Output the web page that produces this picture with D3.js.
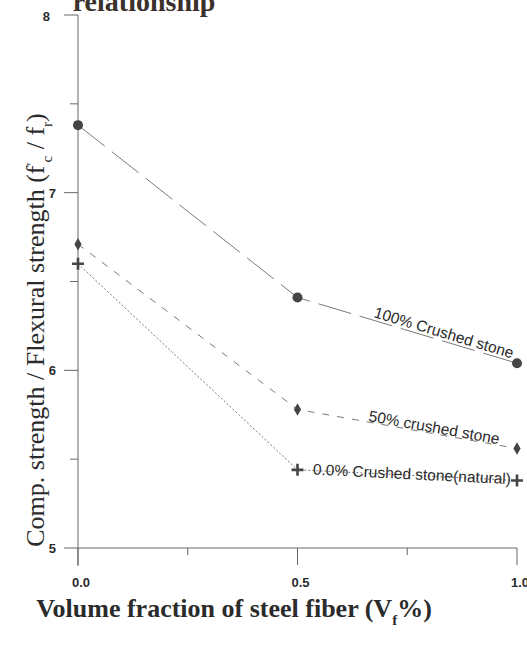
<!DOCTYPE html>
<html>
<head>
<meta charset="utf-8">
<script src="https://cdn.jsdelivr.net/npm/d3@7"></script>
<style>
body { margin:0; background:#fff; }
svg { display:block; }
</style>
</head>
<body>
<div id="chart"></div>
<script>
// data
const fiberFractions = [0.0, 0.5, 1.0];
const crushed100 = [7.38, 6.41, 6.04];
const crushed50 = [6.71, 5.78, 5.56];
const crushed0 = [6.60, 5.44, 5.38];
const seriesNames = ['100% Crushed stone', '50% crushed stone', '0.0% Crushed stone(natural)'];
const yTickValues = [5, 6, 7, 8];
const yMinorTicks = [5.5, 6.5, 7.5];
const xTickValues = [0.0, 0.5, 1.0];
const xMinorTicks = [0.25, 0.75];

(function(){
const W = 527, H = 646;
const svg = d3.select('#chart').append('svg').attr('width', W).attr('height', H);

const x = d3.scaleLinear().domain([0, 1]).range([78, 517]);
const y = d3.scaleLinear().domain([5, 8]).range([548, 15]);

const ink = '#2b2b2b';
const axisCol = '#666';

// title (cut off at top in the scan)
svg.append('text').attr('x', 144).attr('y', 11).attr('text-anchor', 'middle')
  .style('font-family', '"Liberation Serif", serif').style('font-weight', 'bold')
  .style('font-size', '28px').attr('fill', '#3a302c').text('relationship');

// axes lines
svg.append('line').attr('x1', x(0)).attr('x2', x(0)).attr('y1', y(8)).attr('y2', y(5) + 18)
  .attr('stroke', axisCol).attr('stroke-width', 1);
svg.append('line').attr('x1', x(0)).attr('x2', x(1)).attr('y1', y(5)).attr('y2', y(5))
  .attr('stroke', axisCol).attr('stroke-width', 1);

// y ticks
svg.selectAll('.ytick').data(yTickValues).enter().append('line')
  .attr('x1', x(0) - 14).attr('x2', x(0)).attr('y1', d => y(d)).attr('y2', d => y(d))
  .attr('stroke', axisCol);
svg.selectAll('.yminor').data(yMinorTicks).enter().append('line')
  .attr('x1', x(0) - 8).attr('x2', x(0)).attr('y1', d => y(d)).attr('y2', d => y(d))
  .attr('stroke', axisCol);
svg.selectAll('.ylab').data(yTickValues).enter().append('text')
  .attr('x', d => d === 8 ? 50 : 56).attr('y', d => y(d) + (d === 8 ? 6 : 5)).attr('text-anchor', 'end')
  .style('font-family', '"Liberation Sans", Arial, sans-serif').style('font-weight', 'bold')
  .style('font-size', '13px').attr('fill', ink).text(d => d);

// x ticks
svg.selectAll('.xtick').data(xTickValues).enter().append('line')
  .attr('x1', d => x(d)).attr('x2', d => x(d)).attr('y1', y(5)).attr('y2', y(5) + 17)
  .attr('stroke', axisCol);
svg.selectAll('.xminor').data(xMinorTicks).enter().append('line')
  .attr('x1', d => x(d)).attr('x2', d => x(d)).attr('y1', y(5)).attr('y2', y(5) + 7)
  .attr('stroke', axisCol);
svg.selectAll('.xlab').data(xTickValues).enter().append('text')
  .attr('x', d => x(d) + 3).attr('y', 587).attr('text-anchor', 'middle')
  .style('font-family', '"Liberation Sans", Arial, sans-serif').style('font-weight', 'bold')
  .style('font-size', '13px').attr('fill', ink).text(d => d.toFixed(1));

// axis titles
const yTitle = svg.append('text').attr('transform', 'translate(44,330) rotate(-90)')
  .attr('text-anchor', 'middle')
  .style('font-family', '"Liberation Serif", serif').style('font-size', '26px').attr('fill', ink);
yTitle.append('tspan').text('Comp. strength / Flexural strength (f');
yTitle.append('tspan').attr('baseline-shift', 'super').style('font-size', '14px').text('\u2032');
yTitle.append('tspan').attr('baseline-shift', 'sub').style('font-size', '15px').text('c');
yTitle.append('tspan').text(' / f');
yTitle.append('tspan').attr('baseline-shift', 'sub').style('font-size', '15px').text('r');
yTitle.append('tspan').text(')');

const xTitle = svg.append('text').attr('x', 234).attr('y', 617).attr('text-anchor', 'middle')
  .style('font-family', '"Liberation Serif", serif').style('font-weight', 'bold')
  .style('font-size', '26px').attr('fill', ink);
xTitle.append('tspan').text('Volume fraction of steel fiber (V');
xTitle.append('tspan').attr('baseline-shift', 'sub').style('font-size', '15px').text('f');
xTitle.append('tspan').text('%)');

// series
const series = [
  { name: seriesNames[0], values: crushed100, dash: '34,9', marker: 'circle', t: 0.34, dy: -3 },
  { name: seriesNames[1], values: crushed50, dash: '7,8', marker: 'diamond', t: 0.32, dy: -1 },
  { name: seriesNames[2], values: crushed0, dash: '2,2', marker: 'plus', t: 0.07, dy: 4 }
];

const line = d3.line().x((d, i) => x(fiberFractions[i])).y(d => y(d));

series.forEach(s => {
  svg.append('path').attr('d', line(s.values)).attr('fill', 'none')
    .attr('stroke', '#6a6a6a').attr('stroke-width', 0.9).attr('stroke-dasharray', s.dash);

  const g = svg.append('g');
  s.values.forEach((v, i) => {
    const cx = x(fiberFractions[i]), cy = y(v);
    if (s.marker === 'circle') {
      g.append('circle').attr('cx', cx).attr('cy', cy).attr('r', 5).attr('fill', '#454545');
    } else if (s.marker === 'diamond') {
      g.append('path').attr('d', d3.symbol(d3.symbolDiamond, 45)())
        .attr('transform', `translate(${cx},${cy})`).attr('fill', '#454545');
    } else {
      g.append('path').attr('d', `M${cx - 6},${cy}H${cx + 6}M${cx},${cy - 6}V${cy + 6}`)
        .attr('stroke', '#454545').attr('stroke-width', 2.6);
    }
  });

  // label laid along the last segment
  const x0 = x(fiberFractions[1]), y0 = y(s.values[1]);
  const x1 = x(fiberFractions[2]), y1 = y(s.values[2]);
  const ang = Math.atan2(y1 - y0, x1 - x0) * 180 / Math.PI;
  const px = x0 + s.t * (x1 - x0), py = y0 + s.t * (y1 - y0);
  svg.append('text')
    .attr('transform', `translate(${px},${py}) rotate(${ang}) translate(0,${s.dy})`)
    .style('font-family', '"Liberation Sans", Arial, sans-serif')
    .style('font-size', '15.5px').attr('fill', ink).text(s.name);
});
})();
</script>
</body>
</html>
